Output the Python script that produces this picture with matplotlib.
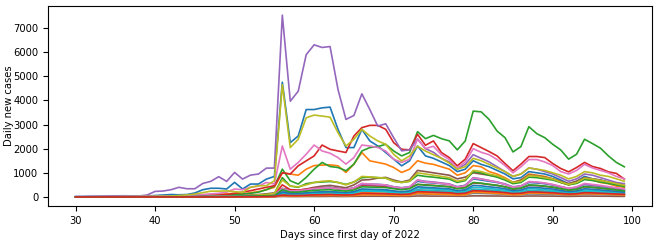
import matplotlib
matplotlib.use('Agg')
import matplotlib.pyplot as plt

days = list(range(30, 100))

s00 = [10, 10, 15, 15, 20, 20, 25, 30, 30, 40,
       60, 80, 100, 90, 100, 165, 300, 360, 360, 330,
       605, 330, 535, 535, 740, 850, 4750, 2250, 2525, 3620,
       3620, 3690, 3720, 2800, 2045, 2045, 2800, 2320, 2110, 1840,
       1565, 1290, 1495, 2110, 1700, 1600, 1450, 1300, 1050, 1150,
       1500, 1350, 1250, 1100, 950, 750, 800, 1050, 1000, 950,
       850, 700, 550, 650, 850, 750, 700, 600, 500, 450]
s01 = [5, 5, 5, 5, 5, 10, 10, 10, 10, 15,
       15, 20, 20, 25, 30, 40, 60, 90, 120, 130,
       150, 120, 180, 220, 300, 400, 1000, 950, 900, 1150,
       1300, 1320, 1330, 1290, 1015, 1360, 1840, 1495, 1430, 1360,
       1220, 1015, 1150, 1500, 1400, 1350, 1250, 1150, 900, 1000,
       1300, 1250, 1050, 950, 800, 600, 700, 950, 900, 850,
       750, 600, 500, 600, 750, 700, 600, 550, 450, 400]
s02 = [0, 0, 0, 0, 0, 5, 5, 5, 5, 10,
       10, 10, 15, 20, 25, 30, 40, 50, 60, 80,
       100, 120, 150, 200, 300, 450, 1150, 670, 535, 810,
       1150, 1430, 1260, 1220, 1085, 1360, 1905, 2045, 2085, 2180,
       1905, 1700, 1840, 2705, 2415, 2550, 2415, 2320, 1950, 2320,
       3555, 3525, 3210, 2730, 2455, 1865, 2085, 2910, 2620, 2455,
       2180, 1950, 1565, 1770, 2390, 2210, 2020, 1700, 1430, 1250]
s03 = [0, 0, 0, 0, 5, 5, 5, 5, 10, 10,
       10, 15, 15, 20, 20, 30, 40, 60, 80, 100,
       150, 200, 260, 330, 400, 465, 1000, 950, 1290, 1495,
       1700, 2150, 1975, 1905, 1840, 2525, 2870, 2965, 2965, 2800,
       2250, 1975, 1950, 2595, 2140, 2320, 1840, 1630, 1290, 1565,
       2210, 2045, 1880, 1700, 1385, 1085, 1360, 1675, 1675, 1630,
       1385, 1180, 1040, 1220, 1430, 1260, 1180, 1040, 975, 740]
s04 = [20, 25, 30, 35, 40, 45, 50, 45, 40, 80,
       230, 245, 300, 400, 340, 340, 560, 645, 840, 645,
       1015, 740, 905, 950, 1195, 1195, 7530, 3965, 4380, 5890,
       6300, 6190, 6230, 4450, 3210, 3375, 4270, 3620, 2935, 3030,
       2455, 1910, 1950, 2400, 2000, 1850, 1600, 1450, 1150, 1350,
       1750, 1600, 1450, 1250, 1050, 850, 950, 1200, 1150, 1050,
       950, 800, 650, 750, 950, 900, 800, 700, 600, 550]
s05 = [0, 0, 0, 0, 0, 0, 0, 0, 5, 5,
       5, 5, 10, 10, 10, 15, 20, 25, 30, 40,
       50, 60, 80, 100, 130, 170, 350, 300, 280, 330,
       400, 450, 480, 430, 380, 500, 700, 720, 780, 810,
       700, 620, 700, 1100, 1050, 1000, 950, 900, 750, 820,
       1000, 950, 900, 850, 750, 600, 700, 900, 880, 820,
       750, 650, 550, 650, 800, 750, 700, 620, 550, 480]
s06 = [5, 5, 10, 10, 15, 15, 20, 20, 20, 25,
       30, 30, 40, 50, 60, 80, 100, 130, 150, 200,
       330, 300, 400, 450, 600, 535, 2110, 1150, 1430, 1770,
       2150, 1905, 1810, 1630, 1360, 1630, 2150, 2110, 2050, 1900,
       1565, 1430, 1565, 2400, 2000, 2100, 1750, 1550, 1200, 1450,
       2000, 1850, 1750, 1550, 1300, 1000, 1250, 1550, 1550, 1450,
       1300, 1050, 950, 1100, 1350, 1200, 1100, 1000, 850, 750]
s07 = [0, 0, 0, 0, 0, 0, 0, 0, 0, 0,
       0, 0, 5, 5, 5, 5, 10, 10, 10, 15,
       20, 20, 25, 30, 40, 50, 120, 90, 100, 120,
       150, 160, 170, 150, 130, 170, 250, 240, 230, 220,
       180, 160, 180, 300, 280, 270, 250, 240, 180, 210,
       320, 300, 280, 260, 220, 170, 200, 270, 260, 240,
       220, 180, 150, 170, 230, 210, 190, 170, 150, 130]
s08 = [5, 5, 5, 10, 10, 10, 15, 15, 20, 20,
       25, 30, 40, 60, 80, 120, 180, 240, 240, 250,
       220, 190, 400, 465, 465, 670, 4650, 2045, 2390, 3280,
       3390, 3350, 3305, 2660, 2110, 2390, 2800, 2525, 2320, 2180,
       1770, 1495, 1700, 2100, 1900, 1750, 1600, 1400, 1150, 1250,
       1600, 1500, 1350, 1200, 1050, 850, 950, 1200, 1150, 1100,
       1000, 900, 750, 850, 1050, 1000, 900, 850, 750, 650]
s09 = [10, 10, 10, 10, 10, 10, 10, 10, 10, 10,
       10, 10, 10, 10, 10, 15, 15, 20, 20, 25,
       30, 30, 40, 50, 60, 80, 200, 120, 130, 150,
       180, 200, 210, 190, 160, 200, 300, 290, 280, 270,
       230, 200, 230, 380, 350, 330, 310, 290, 230, 260,
       400, 380, 350, 320, 280, 220, 250, 340, 330, 300,
       270, 230, 190, 210, 290, 270, 240, 210, 190, 170]
s10 = [0, 0, 0, 0, 0, 0, 0, 0, 0, 0,
       0, 0, 5, 5, 5, 10, 10, 15, 20, 25,
       30, 40, 50, 60, 80, 100, 350, 250, 250, 300,
       350, 380, 400, 350, 300, 380, 550, 530, 520, 500,
       420, 380, 420, 650, 600, 580, 550, 520, 420, 480,
       750, 700, 650, 600, 520, 400, 450, 600, 580, 550,
       500, 420, 350, 400, 520, 480, 440, 400, 350, 300]
s11 = [0, 0, 0, 0, 0, 0, 0, 0, 0, 0,
       0, 0, 0, 0, 5, 5, 5, 10, 10, 10,
       15, 15, 20, 25, 30, 40, 100, 80, 80, 90,
       110, 120, 130, 110, 90, 120, 180, 170, 160, 150,
       120, 100, 120, 200, 190, 180, 160, 150, 110, 130,
       220, 210, 190, 170, 140, 100, 120, 170, 160, 150,
       140, 110, 90, 100, 140, 130, 120, 110, 100, 90]
s12 = [0, 0, 0, 0, 0, 0, 0, 0, 0, 0,
       0, 0, 5, 5, 5, 10, 10, 15, 20, 25,
       30, 40, 50, 70, 100, 130, 800, 450, 400, 550,
       600, 620, 640, 600, 520, 620, 800, 820, 800, 780,
       650, 600, 650, 900, 850, 820, 780, 740, 600, 680,
       1050, 1000, 900, 820, 700, 550, 600, 820, 800, 750,
       700, 600, 500, 560, 720, 680, 620, 560, 500, 430]
s13 = [0, 0, 0, 0, 0, 0, 0, 0, 0, 0,
       0, 0, 0, 5, 5, 5, 10, 10, 15, 20,
       25, 30, 40, 50, 70, 90, 500, 300, 280, 320,
       360, 380, 390, 350, 300, 360, 480, 470, 450, 440,
       380, 340, 380, 520, 500, 480, 450, 430, 350, 400,
       580, 560, 520, 480, 420, 320, 360, 480, 470, 440,
       400, 340, 280, 320, 420, 400, 360, 330, 290, 250]
s14 = [0, 0, 0, 0, 0, 0, 0, 0, 0, 0,
       0, 0, 5, 5, 5, 10, 10, 15, 15, 20,
       25, 30, 40, 50, 60, 80, 250, 200, 220, 280,
       330, 360, 380, 350, 300, 380, 520, 510, 500, 480,
       400, 360, 400, 700, 650, 620, 580, 540, 420, 480,
       800, 750, 680, 620, 540, 420, 460, 620, 600, 560,
       500, 420, 350, 400, 520, 490, 450, 410, 360, 320]
s15 = [0, 0, 0, 0, 0, 0, 0, 0, 0, 0,
       0, 0, 0, 0, 0, 0, 0, 0, 5, 5,
       5, 5, 5, 5, 10, 10, 20, 15, 15, 20,
       20, 20, 25, 20, 20, 25, 30, 30, 30, 30,
       25, 25, 25, 40, 40, 35, 35, 35, 30, 30,
       45, 45, 40, 40, 35, 30, 30, 40, 40, 35,
       35, 30, 25, 30, 35, 35, 30, 30, 25, 25]
s16 = [0, 0, 0, 0, 0, 0, 0, 0, 0, 0,
       0, 0, 0, 5, 5, 10, 10, 15, 20, 25,
       30, 40, 50, 60, 80, 100, 350, 250, 260, 300,
       350, 370, 380, 340, 300, 380, 560, 540, 520, 500,
       420, 380, 420, 700, 620, 600, 560, 520, 400, 460,
       780, 740, 680, 620, 520, 400, 450, 640, 620, 580,
       520, 440, 360, 420, 560, 520, 480, 430, 380, 330]
s17 = [0, 0, 0, 0, 0, 0, 0, 0, 0, 0,
       0, 0, 0, 0, 0, 0, 0, 0, 0, 0,
       5, 5, 10, 10, 15, 20, 60, 40, 40, 50,
       60, 70, 70, 60, 50, 70, 100, 100, 95, 90,
       80, 70, 80, 130, 120, 115, 110, 105, 80, 90,
       150, 145, 135, 125, 110, 85, 95, 125, 120, 115,
       105, 90, 75, 85, 115, 110, 100, 90, 80, 70]
s18 = [0, 0, 0, 0, 0, 0, 0, 0, 0, 0,
       0, 0, 5, 5, 5, 10, 10, 15, 20, 25,
       30, 40, 60, 80, 100, 150, 700, 450, 420, 500,
       600, 650, 670, 600, 500, 620, 850, 830, 800, 780,
       650, 600, 650, 1000, 950, 900, 850, 800, 650, 720,
       1100, 1050, 950, 880, 760, 600, 650, 880, 860, 800,
       740, 620, 520, 600, 780, 740, 680, 620, 550, 480]
s19 = [0, 0, 0, 0, 0, 0, 0, 0, 0, 0,
       0, 0, 0, 0, 5, 5, 5, 10, 10, 10,
       15, 15, 20, 25, 30, 40, 150, 100, 100, 120,
       150, 160, 170, 150, 130, 160, 250, 240, 230, 220,
       180, 160, 180, 280, 260, 250, 230, 220, 170, 200,
       300, 290, 270, 250, 210, 160, 180, 250, 240, 230,
       210, 170, 140, 160, 220, 200, 190, 170, 150, 130]
s20 = [0, 0, 0, 0, 0, 0, 0, 0, 0, 0,
       0, 0, 0, 5, 5, 5, 10, 10, 10, 15,
       20, 25, 30, 35, 40, 50, 200, 150, 150, 170,
       200, 210, 220, 200, 180, 220, 330, 320, 310, 300,
       250, 220, 250, 420, 400, 380, 360, 340, 260, 300,
       480, 460, 420, 390, 340, 260, 290, 400, 390, 360,
       330, 270, 220, 250, 340, 320, 290, 260, 230, 200]
s21 = [0, 0, 0, 0, 0, 0, 0, 0, 0, 0,
       0, 0, 0, 0, 0, 0, 0, 0, 0, 0,
       5, 5, 5, 10, 10, 15, 50, 40, 40, 50,
       60, 60, 65, 60, 50, 60, 90, 90, 85, 80,
       70, 60, 70, 150, 130, 120, 110, 100, 80, 90,
       200, 190, 170, 150, 120, 90, 100, 170, 160, 150,
       140, 110, 90, 100, 140, 130, 120, 110, 90, 80]
s22 = [0, 0, 0, 0, 0, 0, 0, 0, 0, 0,
       0, 0, 0, 0, 5, 5, 5, 10, 10, 15,
       20, 25, 30, 40, 50, 60, 300, 200, 200, 240,
       270, 290, 300, 270, 240, 290, 420, 410, 400, 390,
       340, 300, 340, 520, 490, 470, 450, 420, 340, 380,
       600, 570, 520, 480, 420, 330, 370, 500, 480, 450,
       410, 340, 280, 320, 430, 400, 370, 330, 290, 250]
s23 = [0, 0, 0, 0, 0, 0, 0, 0, 0, 0,
       0, 0, 0, 0, 0, 0, 0, 0, 0, 0,
       5, 5, 10, 10, 15, 20, 80, 60, 60, 70,
       90, 95, 100, 90, 80, 95, 150, 145, 140, 135,
       120, 105, 120, 220, 210, 200, 185, 175, 135, 155,
       260, 250, 230, 210, 180, 140, 155, 210, 205, 190,
       175, 145, 120, 135, 180, 170, 155, 140, 125, 110]

all_series = [s00, s01, s02, s03, s04, s05, s06, s07, s08, s09, s10, s11,
              s12, s13, s14, s15, s16, s17, s18, s19, s20, s21, s22, s23]

plt.rcParams['font.size'] = 7.2

fig = plt.figure(figsize=(6.59, 2.41), dpi=100)
ax = fig.add_axes([0.073, 0.145, 0.916, 0.83])

for s in all_series:
    ax.plot(days, s, lw=1.2)

ax.set_xlabel('Days since first day of 2022', labelpad=3)
ax.set_ylabel('Daily new cases')
ax.yaxis.set_label_coords(-0.056, 0.5)  # иначе подпись обрезается слева
ax.set_yticks(range(0, 8000, 1000))

plt.savefig('out.png', dpi=100)
